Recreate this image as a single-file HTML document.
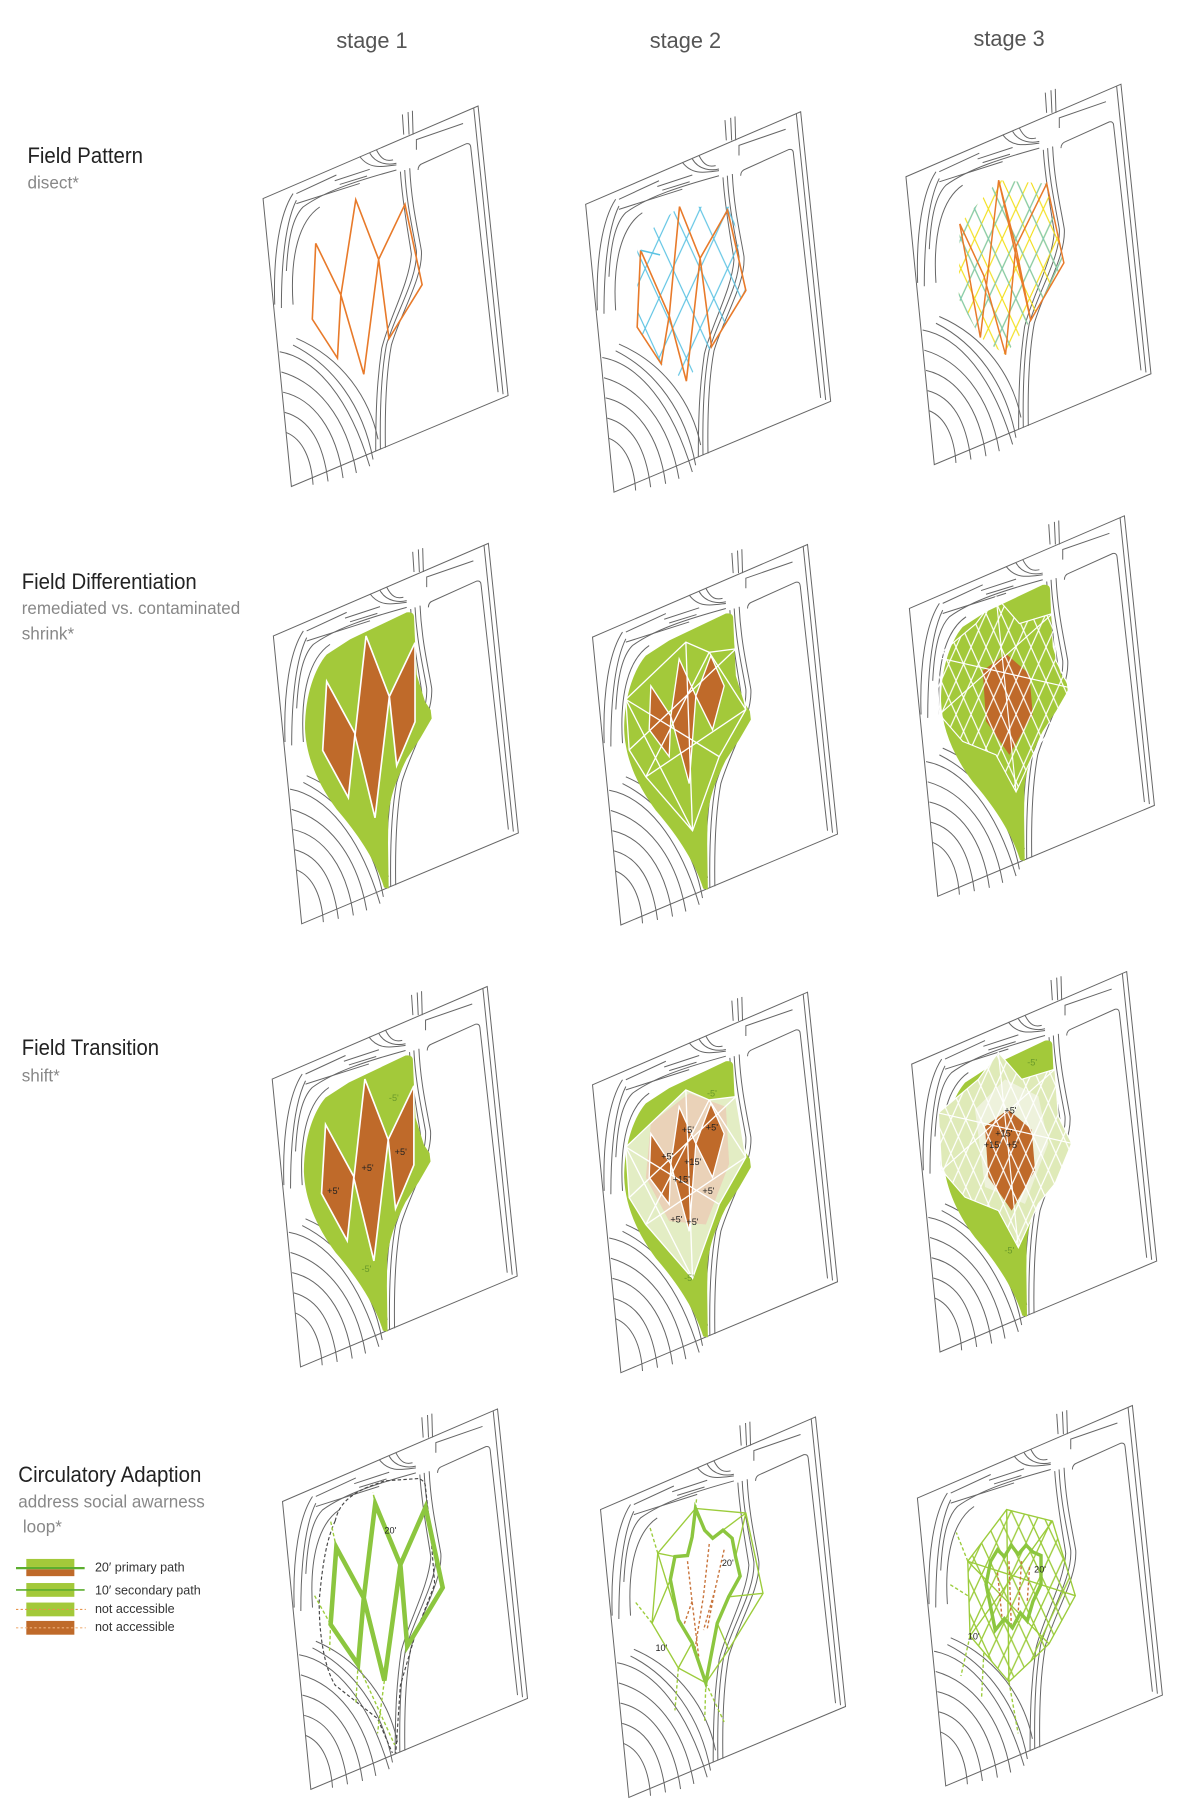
<!DOCTYPE html>
<html><head><meta charset="utf-8"><style>
html,body{margin:0;padding:0;background:#fff;}
svg{display:block}
.t{font-family:"Liberation Sans Narrow","Liberation Sans",sans-serif;}
</style></head><body>
<svg width="1200" height="1800" viewBox="0 0 1049 1568" preserveAspectRatio="none" xmlns="http://www.w3.org/2000/svg">
<defs>
<g id="base" fill="none" stroke="#666" stroke-width="3">
  <path d="M40,285 L685,10 L775,870 L125,1140 Z"/>
  <path d="M672,16 L760,866"/>
  <path d="M462,95 L458,35 M478,95 L475,28 M490,95 L488,24"/>
  <path d="M500,140 L500,110 L640,62"/>
  <path d="M505,200 Q505,185 520,180 L650,122 Q662,120 663,132 L745,860"/>
  <path d="M465,200 C470,300 490,380 500,440 C505,520 440,620 410,720 C395,800 390,900 392,1030"/>
  <path d="M480,195 C485,300 505,380 515,440 C520,520 455,620 425,720 C410,800 405,900 407,1025"/>
  <path d="M452,205 C458,300 478,400 485,450 C478,540 418,640 396,730 C383,820 378,900 378,1035"/>
  <path d="M75,600 C70,450 90,330 130,270"/>
  <path d="M95,610 C95,460 110,350 140,290"/>
  <path d="M110,500 C115,400 130,340 160,310 C230,260 330,230 440,200"/>
  <path d="M130,600 C120,450 150,350 210,310"/>
  <path d="M140,270 L260,215 M140,300 L330,240 M255,232 L360,198 M270,243 L352,218"/>
  <path d="M330,160 C360,200 400,190 440,185 M360,150 C380,185 420,185 440,180 M380,140 C395,170 410,175 430,170"/>
  <path d="M90,740 C200,760 300,880 360,1080 M95,800 C200,830 290,930 320,1100 M100,860 C190,880 260,970 280,1115 M105,920 C180,940 220,1010 235,1125 M110,980 C160,1000 185,1060 190,1135 M130,720 C250,780 340,900 370,1060 M140,700 C280,760 360,880 385,1000"/>
</g>
<path id="leaf" fill="#a3c93a" d="M270,295 L440,215 Q462,212 462,230 L465,300 L470,400 L495,480 L512,505 L515,530 L480,590 L440,650 C410,710 390,760 385,820 L384,900 L386,1035 L372,1032 C350,960 300,880 230,800 C170,720 138,640 135,560 C135,460 165,380 200,340 Z"/>
<g id="brown1" fill="#bf6a2a" stroke="#fff" stroke-width="5">
  <path d="M200,420 L285,575 L265,765 L188,625 Z"/>
  <path d="M318,285 L388,465 L345,825 L285,580 Z"/>
  <path d="M465,305 L465,540 L410,670 L388,465 Z"/>
</g>
<g id="brown2" fill="#bf6a2a" stroke="#fff" stroke-width="4">
  <path d="M215,430 L275,520 L270,640 L210,560 Z"/>
  <path d="M300,350 L350,460 L330,720 L275,520 Z"/>
  <path d="M395,340 L435,430 L400,560 L350,460 Z"/>
</g>
<g id="lat2" fill="none" stroke="#fff" stroke-width="4">
  <path d="M140,470 L320,300 L390,330 L470,320 L500,500 L420,640 L340,860 L200,700 L150,620 Z"/>
  <path d="M140,470 L420,640 M150,620 L470,320 M320,300 L340,860 M390,330 L200,700 M200,700 L500,500 M390,330 L500,500 M140,470 L340,860"/>
</g>
<pattern id="dia" patternUnits="userSpaceOnUse" width="45" height="100"><path d="M0,0 L45,100 M45,0 L0,100" stroke="#fff" stroke-width="3.5" fill="none"/></pattern>
<clipPath id="star"><path d="M120,430 L240,330 L300,250 L370,330 L470,300 L480,440 L520,520 L470,640 L420,700 L360,830 L300,720 L200,680 L130,600 Z"/></clipPath>
<g id="lat3">
  <rect x="100" y="240" width="430" height="600" fill="url(#dia)" clip-path="url(#star)"/>
  <path d="M120,430 L240,330 L300,250 L370,330 L470,300 L480,440 L520,520 L470,640 L420,700 L360,830 L300,720 L200,680 L130,600 Z M120,430 L520,520 M130,600 L470,300 M300,250 L360,830" fill="none" stroke="#fff" stroke-width="3.5"/>
</g>
<path id="brown3" fill="#bf6a2a" d="M260,470 L330,420 L400,480 L410,600 L340,720 L270,620 Z"/>
<pattern id="cy" patternUnits="userSpaceOnUse" width="24" height="52"><path d="M0,0 L24,52 M24,0 L0,52" stroke="#5cc3e3" stroke-width="1" fill="none"/></pattern>
<pattern id="ye" patternUnits="userSpaceOnUse" width="12" height="26"><path d="M0,0 L12,26 M12,0 L0,26" stroke="#f3df1c" stroke-width="1" fill="none"/></pattern>
<pattern id="gl" patternUnits="userSpaceOnUse" width="13" height="28"><path d="M0,0 L13,28 M13,0 L0,28" stroke="#9ccc3c" stroke-width="1.2" fill="none"/></pattern>
<clipPath id="c12"><path d="M557,210 L594,180 L640,180 L652,253 L622,302 L600,332 L578,317 L557,285 Z"/></clipPath>
<clipPath id="c13"><path d="M839,195 L873,157 L915,160 L930,229 L901,279 L879,309 L857,294 L838,260 Z"/></clipPath>
<clipPath id="c43"><path d="M846,1360 L880,1315 L920,1325 L940,1390 L917,1432 L882,1465 L848,1425 Z"/></clipPath>
</defs>

<!-- headings -->
<g class="t" fill="#555" font-size="19">
<text x="294" y="42">stage 1</text>
<text x="568" y="42">stage 2</text>
<text x="851" y="40">stage 3</text>
</g>
<g class="t">
<text x="24" y="142" font-size="19" fill="#222" textLength="101" lengthAdjust="spacingAndGlyphs">Field Pattern</text>
<text x="24" y="164" font-size="15" fill="#888">disect*</text>
<text x="19" y="513" font-size="19" fill="#222" textLength="153" lengthAdjust="spacingAndGlyphs">Field Differentiation</text>
<text x="19" y="535" font-size="15" fill="#888" textLength="191" lengthAdjust="spacingAndGlyphs">remediated vs. contaminated</text>
<text x="19" y="557" font-size="15" fill="#888">shrink*</text>
<text x="19" y="919" font-size="19" fill="#222" textLength="120" lengthAdjust="spacingAndGlyphs">Field Transition</text>
<text x="19" y="942" font-size="15" fill="#888">shift*</text>
<text x="16" y="1291" font-size="19" fill="#222" textLength="160" lengthAdjust="spacingAndGlyphs">Circulatory Adaption</text>
<text x="16" y="1313" font-size="15" fill="#888" textLength="163" lengthAdjust="spacingAndGlyphs">address social awarness</text>
<text x="20" y="1335" font-size="15" fill="#888">loop*</text>
</g>

<!-- legend -->
<rect x="23" y="1358" width="42" height="7" fill="#a3c93a"/>
<rect x="23" y="1367" width="42" height="6" fill="#bf6a2a"/>
<line x1="14" y1="1366" x2="74" y2="1366" stroke="#5cae2e" stroke-width="2"/>
<rect x="23" y="1379" width="42" height="12" fill="#a3c93a"/>
<line x1="14" y1="1385" x2="74" y2="1385" stroke="#5cae2e" stroke-width="1.5"/>
<rect x="23" y="1396" width="42" height="12" fill="#a3c93a"/>
<line x1="14" y1="1402" x2="75" y2="1402" stroke="#e8944a" stroke-width="1" stroke-dasharray="2,2"/>
<rect x="23" y="1412" width="42" height="12" fill="#bf6a2a"/>
<line x1="14" y1="1418" x2="75" y2="1418" stroke="#f0b07a" stroke-width="1" stroke-dasharray="2,2"/>
<g font-family="'Liberation Sans',sans-serif" font-size="11" fill="#333">
<text x="83" y="1369">20′ primary path</text>
<text x="83" y="1389">10′ secondary path</text>
<text x="83" y="1405">not accessible</text>
<text x="83" y="1421">not accessible</text>
</g>

<!-- base panels -->
<use href="#base" transform="translate(218.3,89.4) scale(0.2914,0.2933)"/>
<use href="#base" transform="translate(500.3,94.4) scale(0.2914,0.2933)"/>
<use href="#base" transform="translate(780.3,70.4) scale(0.2914,0.2933)"/>

<!-- row1 overlays -->
<path d="M276,212 L298,257 L311,174 L331,226 L354,178 L369,248 L340,295 L331,226 L318,326 L298,257 L295,312 L273,278 Z" fill="none" stroke="#e87a2a" stroke-width="1.4"/>
<rect x="550" y="170" width="110" height="170" fill="url(#cy)" clip-path="url(#c12)"/>
<path d="M560,218 L585,275 L594,180 L612,225 L636,183 L652,253 L622,302 L612,225 L600,332 L585,275 L578,317 L557,285 Z" fill="none" stroke="#e87a2a" stroke-width="1.4"/>
<path d="M560,218 L577,222" stroke="#5cc3e3" stroke-width="1.4"/>
<rect x="830" y="150" width="110" height="170" fill="url(#ye)" clip-path="url(#c13)"/>
<rect x="830" y="150" width="110" height="170" fill="url(#cy)" clip-path="url(#c13)" opacity="0.8"/>
<path d="M839,195 L857,294 L873,157 L888,215 L915,160 L930,229 L901,279 L888,215 L879,309 L860,240 L839,195 M873,157 L901,279" fill="none" stroke="#e87a2a" stroke-width="1.3"/>

<!-- row2 -->
<g transform="translate(227.3,470.4) scale(0.2914,0.2933)"><use href="#base"/><use href="#leaf"/><use href="#brown1"/></g>
<g transform="translate(506.3,471.4) scale(0.2914,0.2933)"><use href="#base"/><use href="#leaf"/><use href="#brown2"/><use href="#lat2"/></g>
<g transform="translate(783.3,446.4) scale(0.2914,0.2933)"><use href="#base"/><use href="#leaf"/><use href="#brown3"/><use href="#lat3"/></g>

<!-- row3 -->
<g transform="translate(226.3,856.4) scale(0.2914,0.2933)"><use href="#base"/><use href="#leaf"/><use href="#brown1"/></g>
<g transform="translate(506.3,861.4) scale(0.2914,0.2933)"><use href="#base"/><use href="#leaf"/>
  <path d="M140,470 L320,300 L390,330 L470,320 L500,500 L420,640 L340,860 L200,700 L150,620 Z" fill="#e3edc4"/>
  <path d="M215,400 L330,310 L440,350 L450,520 L380,700 L270,690 L200,560 Z" fill="#ead2b8"/>
  <use href="#brown2"/><use href="#lat2"/></g>
<g transform="translate(785.3,843.4) scale(0.2914,0.2933)"><use href="#base"/><use href="#leaf"/>
  <path d="M120,430 L240,330 L300,250 L370,330 L470,300 L480,440 L520,520 L470,640 L420,700 L360,830 L300,720 L200,680 L130,600 Z" fill="#dfeab8"/>
  <path d="M230,420 L320,330 L420,380 L450,520 L380,700 L260,650 Z" fill="#eef2dc"/>
  <use href="#brown3"/><use href="#lat3"/></g>
<g font-family="'Liberation Sans',sans-serif" font-size="8">
<text x="340" y="959" fill="#6a9a2a">-5'</text>
<text x="286" y="1040" fill="#222">+5'</text>
<text x="316" y="1020" fill="#222">+5'</text>
<text x="345" y="1006" fill="#222">+5'</text>
<text x="316" y="1108" fill="#6a9a2a">-5'</text>
<text x="618" y="955" fill="#6a9a2a">-5'</text>
<text x="596" y="987" fill="#222">+5'</text>
<text x="617" y="985" fill="#222">+5'</text>
<text x="598" y="1015" fill="#222">+15'</text>
<text x="588" y="1030" fill="#222">+15'</text>
<text x="578" y="1010" fill="#222">+5'</text>
<text x="586" y="1065" fill="#222">+5'</text>
<text x="600" y="1067" fill="#222">+5'</text>
<text x="614" y="1040" fill="#222">+5'</text>
<text x="598" y="1116" fill="#6a9a2a">-5'</text>
<text x="898" y="928" fill="#6a9a2a">-5'</text>
<text x="878" y="970" fill="#222">+5'</text>
<text x="870" y="990" fill="#222">+15'</text>
<text x="860" y="1000" fill="#222">+15'</text>
<text x="880" y="1000" fill="#222">+5'</text>
<text x="878" y="1092" fill="#6a9a2a">-5'</text>
</g>

<!-- row4 -->
<use href="#base" transform="translate(235.3,1224.4) scale(0.2914,0.2933)"/>
<use href="#base" transform="translate(513.3,1231.4) scale(0.2914,0.2933)"/>
<use href="#base" transform="translate(790.3,1221.4) scale(0.2914,0.2933)"/>

<path d="M293,1325 C296,1312 303,1304 320,1296 L336,1290 L366,1288 Q372,1290 372,1296 L377,1342 L380,1380 L363,1424 L350,1468 L346,1527" fill="none" stroke="#444" stroke-width="1" stroke-dasharray="3,2"/>
<path d="M293,1325 C286,1340 282,1360 279,1395 C279,1430 285,1455 293,1468 L330,1497 L343,1527" fill="none" stroke="#444" stroke-width="1" stroke-dasharray="3,2"/>
<g stroke="#9ccc3c" stroke-width="1.2" stroke-dasharray="3,2" fill="none">
<path d="M294,1348 L289,1325 M328,1310 L326,1300 M289,1415 L288,1440 M313,1450 L311,1485 M313,1450 L345,1520 M336,1464 L330,1510 M275,1390 L289,1415"/>
</g>
<path d="M294,1348 L318,1392 L328,1310 L350,1363 L372,1313 L387,1383 L356,1434 L350,1363 L336,1464 L318,1392 L313,1450 L289,1415 Z" fill="none" stroke="#8cc63f" stroke-width="4" stroke-linejoin="miter"/>
<text x="336" y="1336" font-family="'Liberation Sans',sans-serif" font-size="8" fill="#222">20'</text>

<!-- row4 s2 -->
<g fill="none" stroke="#9ccc3c" stroke-width="1.2">
<path d="M575,1353 L608,1314 L652,1318 L667,1388 L637,1437 L617,1466 L593,1453 L570,1414 Z"/>
<path d="M575,1353 L593,1411 M652,1318 L643,1356 M667,1388 L637,1391 M637,1437 L627,1414 M593,1453 L605,1431 M570,1414 L586,1376 M575,1353 L590,1356 M652,1318 L632,1333"/>
</g>
<g stroke="#9ccc3c" stroke-width="1.2" stroke-dasharray="3,2" fill="none">
<path d="M575,1353 L568,1330 M593,1453 L590,1490 M617,1466 L616,1500 M617,1466 L633,1500 M570,1414 L555,1395 M608,1314 L609,1305"/>
</g>
<g stroke="#c8733a" stroke-width="1.2" stroke-dasharray="2.5,2" fill="none">
<path d="M601,1360 L605,1395 L611,1445 M620,1345 L615,1390 L607,1440 M633,1350 L625,1385 L618,1420 M625,1385 L615,1420 M605,1395 L598,1415"/>
</g>
<path d="M608,1314 L616,1333 L623,1340 L632,1333 L640,1340 L643,1356 L647,1373 L637,1391 L627,1414 L617,1466 L605,1431 L593,1411 L586,1376 L590,1356 L601,1355 L605,1339 Z" fill="none" stroke="#8cc63f" stroke-width="3"/>
<text x="631" y="1364" font-family="'Liberation Sans',sans-serif" font-size="8" fill="#222">20'</text>
<text x="573" y="1438" font-family="'Liberation Sans',sans-serif" font-size="8" fill="#222">10'</text>

<!-- row4 s3 -->
<rect x="840" y="1305" width="110" height="170" fill="url(#gl)" clip-path="url(#c43)"/>
<g fill="none" stroke="#9ccc3c" stroke-width="1.2">
<path d="M846,1360 L880,1315 L920,1325 L940,1390 L917,1432 L882,1465 L848,1425 Z"/>
<path d="M846,1360 L940,1390 M848,1425 L920,1325 M880,1315 L882,1465 M846,1360 L917,1432"/>
</g>
<g stroke="#9ccc3c" stroke-width="1.2" stroke-dasharray="3,2" fill="none">
<path d="M846,1360 L836,1335 M848,1425 L840,1460 M860,1440 L858,1480 M882,1465 L890,1510 M846,1390 L830,1380"/>
</g>
<g stroke="#c8733a" stroke-width="1.2" stroke-dasharray="2.5,2" fill="none">
<path d="M872,1370 L876,1410 M882,1360 L884,1415 M893,1360 L890,1405 M900,1365 L898,1395"/>
</g>
<path d="M866,1360 L872,1350 L878,1356 L884,1346 L890,1354 L897,1346 L903,1352 L910,1355 L910,1380 L903,1395 L898,1412 L892,1405 L885,1418 L878,1410 L870,1420 L866,1400 L862,1380 Z" fill="none" stroke="#8cc63f" stroke-width="3"/>
<text x="904" y="1370" font-family="'Liberation Sans',sans-serif" font-size="8" fill="#222">20'</text>
<text x="846" y="1428" font-family="'Liberation Sans',sans-serif" font-size="8" fill="#222">10'</text>
</svg>
</body></html>
